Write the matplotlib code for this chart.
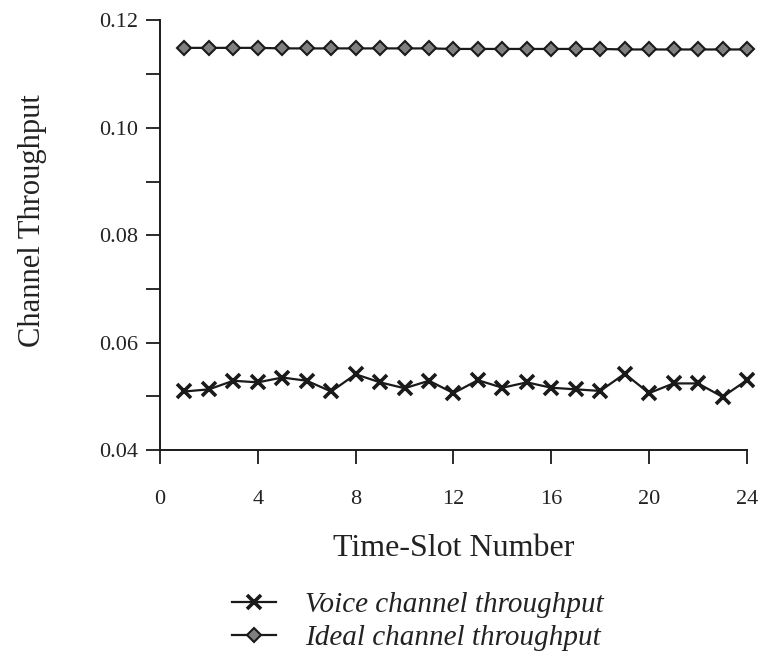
import numpy as np
import matplotlib.pyplot as plt
from matplotlib.ticker import MultipleLocator

plt.rcParams['font.family'] = ['Liberation Serif', 'DejaVu Serif']

# time slots and measured throughputs
slots = np.arange(1, 25)
voice = [0.0509, 0.0513, 0.0529, 0.0526, 0.0535, 0.0529, 0.0509, 0.0541,
         0.0526, 0.0515, 0.0529, 0.0506, 0.0530, 0.0516, 0.0526, 0.0516,
         0.0513, 0.0510, 0.0542, 0.0506, 0.0524, 0.0524, 0.0499, 0.0530]
ideal = [0.1149, 0.1149, 0.1149, 0.1149, 0.1148, 0.1148, 0.1148, 0.1148,
         0.1148, 0.1148, 0.1148, 0.1147, 0.1147, 0.1147, 0.1147, 0.1147,
         0.1147, 0.1147, 0.1146, 0.1146, 0.1146, 0.1146, 0.1146, 0.1146]
xticks = [0, 4, 8, 12, 16, 20, 24]
yticks = [0.04, 0.06, 0.08, 0.10, 0.12]

fig = plt.figure(figsize=(7.64, 6.65), dpi=100)
ax = fig.add_axes([0.2094, 0.3233, 0.7683, 0.6459])

ink = '#1a1a1a'
ax.plot(slots, voice, color=ink, lw=1.6, marker='x', ms=10, mew=2.6,
        mec=ink, clip_on=False, label='Voice channel throughput')
ax.plot(slots, ideal, color=ink, lw=1.6, marker='D', ms=7.5, mew=1.5,
        mfc='#808080', mec=ink, clip_on=False, label='Ideal channel throughput')

ax.set_xlim(0, 24)
ax.set_ylim(0.04, 0.12)
ax.set_xticks(xticks)
ax.set_yticks(yticks)
ax.set_yticklabels(['%.2f' % v for v in yticks])
ax.yaxis.set_minor_locator(MultipleLocator(0.01))

for s in ['top', 'right']:
    ax.spines[s].set_visible(False)
for s in ['left', 'bottom']:
    ax.spines[s].set_linewidth(1.4)
    ax.spines[s].set_color(ink)

ax.tick_params(which='both', direction='out', length=10, width=1.3,
               color=ink, labelsize=16, labelcolor='#222222')
ax.tick_params(axis='x', pad=19)
ax.tick_params(axis='y', pad=6)

ax.set_xlabel('Time-Slot Number', fontsize=23, color='#222222', labelpad=18)
ax.set_ylabel('Channel Throughput', fontsize=22, color='#222222')
ax.yaxis.set_label_coords(-0.193, 0.535)

fig.legend(loc='upper left', bbox_to_anchor=(232 / 764, 1 - 592 / 665),
           frameon=False, prop={'style': 'italic', 'size': 21},
           handlelength=1.5, handletextpad=1.0, labelspacing=0.22,
           borderpad=0, borderaxespad=0, labelcolor='#222222')

fig.savefig('out.png', dpi=100)
